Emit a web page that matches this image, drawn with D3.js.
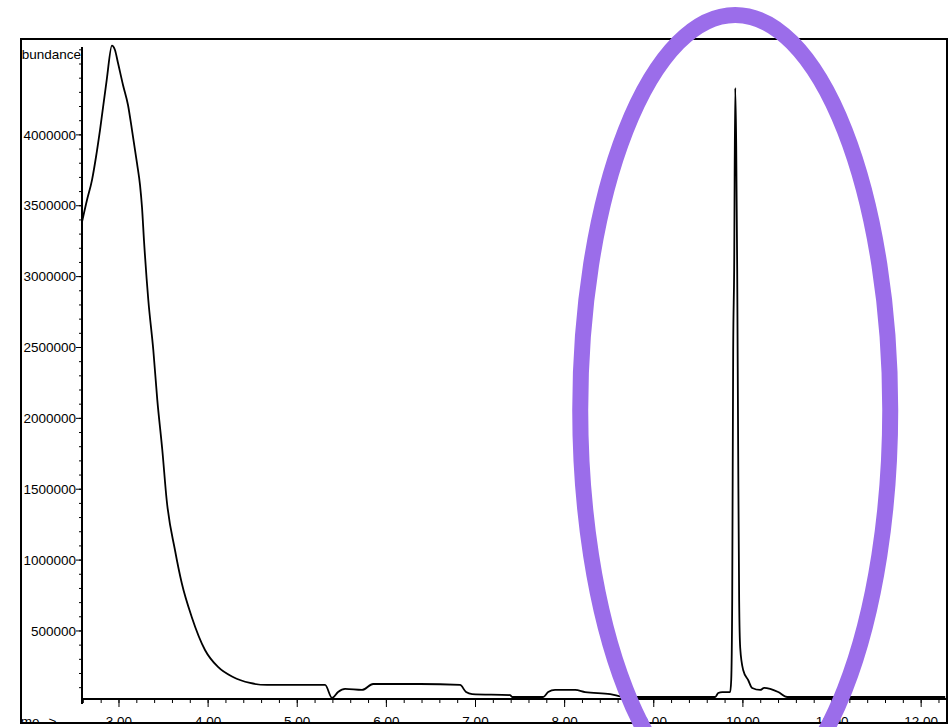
<!DOCTYPE html>
<html>
<head>
<meta charset="utf-8">
<script src="https://cdn.jsdelivr.net/npm/d3@7"></script>
<style>
  html, body { margin: 0; padding: 0; background: white; }
  svg text { font-family: "Liberation Sans", Arial, sans-serif; font-size: 13.5px; fill: #000; }
</style>
</head>
<body>
<div id="graphicContainer"></div>
<script>
// retention time (min) and abundance
var times = [2.585, 2.641, 2.697, 2.742, 2.787, 2.862, 2.921, 2.955, 2.989, 3.045, 3.101, 3.146,
  3.202, 3.236, 3.258, 3.281, 3.329, 3.385, 3.430, 3.486, 3.535, 3.628, 3.704, 3.816, 3.965,
  4.111, 4.279, 4.470, 4.661, 5.031, 5.312, 5.391, 5.458, 5.536, 5.727, 5.851, 6.378, 6.827,
  6.894, 6.962, 7.388, 7.411, 7.759, 7.815, 7.893, 8.118, 8.230, 8.511, 8.679, 9.689, 9.723,
  9.768, 9.857, 9.869, 9.880, 9.891, 9.902, 9.914, 9.925, 9.936, 9.947, 9.958, 9.970, 10.003,
  10.059, 10.104, 10.194, 10.239, 10.306, 10.396, 10.497, 11.204, 12.270]
var abundance = [3385000, 3540000, 3681000, 3844000, 4034000, 4387000, 4630000, 4599000, 4507000,
  4352000, 4211000, 4034000, 3801000, 3646000, 3491000, 3250000, 2835000, 2482000, 2129000,
  1777000, 1424000, 1071000, 838000, 599000, 366000, 246000, 175000, 133000, 119000, 119000,
  119000, 27000, 69000, 91000, 84000, 126000, 126000, 119000, 69000, 55000, 48000, 34000, 34000,
  69000, 84000, 84000, 69000, 55000, 34000, 34000, 62000, 69000, 69000, 154000, 718000, 2482000,
  3047000, 4331000, 3929000, 3047000, 1777000, 718000, 380000, 225000, 154000, 98000, 84000,
  98000, 91000, 69000, 34000, 34000, 34000]

var yTicks = [500000, 1000000, 1500000, 2000000, 2500000, 3000000, 3500000, 4000000]
var xTicks = [3, 4, 5, 6, 7, 8, 9, 10, 11, 12]

var W = 948, H = 727
var frame = {left: 21, top: 39, right: 947, bottom: 723}
var plot = {left: 82, top: 47, right: 947, bottom: 699}

var svg = d3.select("#graphicContainer").append("svg")
  .attr("width", W)
  .attr("height", H)

svg.append("defs").append("clipPath").attr("id", "frameClip")
  .append("rect")
  .attr("x", frame.left).attr("y", frame.top)
  .attr("width", frame.right - frame.left).attr("height", frame.bottom - frame.top)

var x = d3.scaleLinear().domain([2.585, 12.29]).range([plot.left, plot.right])
var y = d3.scaleLinear().domain([20000, 4620000]).range([plot.bottom, plot.top])

var g = svg.append("g").attr("clip-path", "url(#frameClip)")

// y axis
var yAxis = g.append("g")
yAxis.append("line")
  .attr("x1", plot.left).attr("x2", plot.left)
  .attr("y1", plot.top).attr("y2", plot.bottom + 5)
  .attr("stroke", "#000").attr("stroke-width", 2)

yAxis.selectAll(".yminor")
  .data(d3.range(100000, 4600001, 100000))
  .enter().append("line")
  .attr("x1", plot.left - 3).attr("x2", plot.left)
  .attr("y1", d => y(d)).attr("y2", d => y(d))
  .attr("stroke", "#000").attr("stroke-width", 1)

yAxis.selectAll(".ymajor")
  .data(yTicks)
  .enter().append("line")
  .attr("x1", plot.left - 6).attr("x2", plot.left)
  .attr("y1", d => y(d)).attr("y2", d => y(d))
  .attr("stroke", "#000").attr("stroke-width", 1)

yAxis.selectAll("text")
  .data(yTicks)
  .enter().append("text")
  .attr("x", plot.left - 6)
  .attr("y", d => y(d))
  .attr("dy", "0.35em")
  .attr("text-anchor", "end")
  .text(d => d)

// clipped by the frame on the left, as in the original export
g.append("text")
  .attr("x", plot.left - 1)
  .attr("y", 59)
  .attr("text-anchor", "end")
  .text("Abundance")

// x axis
var xAxis = g.append("g")
xAxis.append("line")
  .attr("x1", plot.left).attr("x2", plot.right)
  .attr("y1", plot.bottom).attr("y2", plot.bottom)
  .attr("stroke", "#000").attr("stroke-width", 2)

xAxis.selectAll(".xminor")
  .data(d3.range(2.6, 12.3, 0.2))
  .enter().append("line")
  .attr("x1", d => x(d)).attr("x2", d => x(d))
  .attr("y1", plot.bottom).attr("y2", plot.bottom + 4)
  .attr("stroke", "#000").attr("stroke-width", 1)

xAxis.selectAll(".xmajor")
  .data(xTicks)
  .enter().append("line")
  .attr("x1", d => x(d)).attr("x2", d => x(d))
  .attr("y1", plot.bottom).attr("y2", plot.bottom + 8)
  .attr("stroke", "#000").attr("stroke-width", 1)

xAxis.selectAll("text")
  .data(xTicks)
  .enter().append("text")
  .attr("x", d => x(d))
  .attr("y", 726)
  .attr("text-anchor", "middle")
  .text(d => d.toFixed(2))

g.append("text")
  .attr("x", 10)
  .attr("y", 726)
  .text("Time-->")

// trace
var line = d3.line()
  .x((d, i) => x(times[i]))
  .y(d => y(d))
  .curve(d3.curveMonotoneX)

g.append("path")
  .datum(abundance)
  .attr("fill", "none")
  .attr("stroke", "#000")
  .attr("stroke-width", 1.8)
  .attr("stroke-linejoin", "round")
  .attr("d", line)

// frame
svg.append("rect")
  .attr("x", frame.left).attr("y", frame.top)
  .attr("width", frame.right - frame.left).attr("height", frame.bottom - frame.top)
  .attr("fill", "none")
  .attr("stroke", "#000")
  .attr("stroke-width", 2)

// highlight ring round the late peak
svg.append("ellipse")
  .attr("cx", x(9.914))
  .attr("cy", 410)
  .attr("rx", 155)
  .attr("ry", 395)
  .attr("fill", "none")
  .attr("stroke", "#9b6dea")
  .attr("stroke-width", 16)
</script>
</body>
</html>
